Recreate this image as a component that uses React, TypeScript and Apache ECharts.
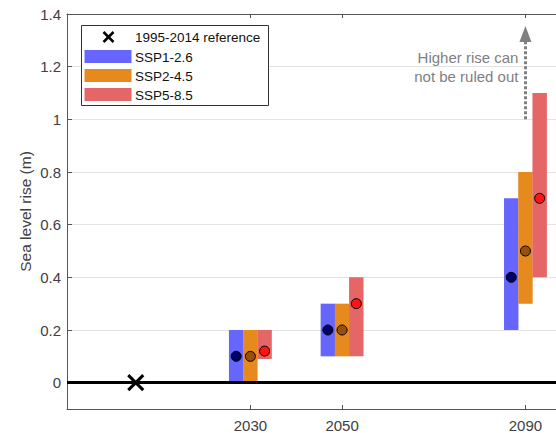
import React, { useEffect, useRef } from "react";
import * as echarts from "echarts";

// ---------- data ----------
const years = [2030, 2050, 2090];
const ssp126Low = [0.0, 0.1, 0.2];
const ssp126High = [0.2, 0.3, 0.7];
const ssp126Median = [0.1, 0.2, 0.4];
const ssp245Low = [0.0, 0.1, 0.3];
const ssp245High = [0.2, 0.3, 0.8];
const ssp245Median = [0.1, 0.2, 0.5];
const ssp585Low = [0.09, 0.1, 0.4];
const ssp585High = [0.2, 0.4, 1.1];
const ssp585Median = [0.12, 0.3, 0.7];
const referenceYear = [2005];
const referenceValue = [0];
const xTickValues = [2030, 2050, 2090];
const yTickValues = [0, 0.2, 0.4, 0.6, 0.8, 1, 1.2, 1.4];
const arrowYear = 2090;
const arrowStart = 1.0;
const arrowEnd = 1.324;
const noteValue = 1.2;

const FONT = "'Liberation Sans', Arial, Helvetica, sans-serif";
const BAR_W = 3.15;
const OFFSET = 3.1;

const scenarios = [
  { name: "SSP1-2.6", low: ssp126Low, high: ssp126High, median: ssp126Median, offset: -OFFSET, bar: "#6666FF", dot: "#000066" },
  { name: "SSP2-4.5", low: ssp245Low, high: ssp245High, median: ssp245Median, offset: 0, bar: "#E68A1E", dot: "#99500A" },
  { name: "SSP5-8.5", low: ssp585Low, high: ssp585High, median: ssp585Median, offset: OFFSET, bar: "#E56666", dot: "#FF1414" },
];

export default function App() {
  const ref = useRef<HTMLDivElement>(null);

  useEffect(() => {
    if (!ref.current) return;
    const chart = echarts.init(ref.current, undefined, { renderer: "svg" });

    const barSeries = scenarios.map((s) => ({
      type: "custom",
      name: s.name,
      z: 2,
      data: years.map((y, i) => [y, s.low[i], s.high[i]]),
      encode: { x: 0, y: [1, 2] },
      renderItem: (_params: any, api: any) => {
        const x = api.value(0) + s.offset;
        const p1 = api.coord([x - BAR_W / 2, api.value(2)]);
        const p2 = api.coord([x + BAR_W / 2, api.value(1)]);
        return {
          type: "rect",
          shape: { x: p1[0], y: p1[1], width: p2[0] - p1[0], height: p2[1] - p1[1] },
          style: { fill: s.bar },
        };
      },
    }));

    const dotSeries = scenarios.map((s) => ({
      type: "scatter",
      name: s.name + " median",
      z: 4,
      symbol: "circle",
      symbolSize: 10,
      data: years.map((y, i) => [y + s.offset, s.median[i]]),
      itemStyle: { color: s.dot, borderColor: "#000", borderWidth: 1, opacity: 1 },
    }));

    const refSeries = {
      type: "custom",
      name: "1995-2014 reference",
      z: 6,
      data: referenceYear.map((y, i) => [y, referenceValue[i]]),
      renderItem: (_params: any, api: any) => {
        const c = api.coord([api.value(0), api.value(1)]);
        const h = 7.5;
        return {
          type: "group",
          children: [
            { type: "line", shape: { x1: c[0] - h, y1: c[1] - h, x2: c[0] + h, y2: c[1] + h }, style: { stroke: "#000", lineWidth: 3 } },
            { type: "line", shape: { x1: c[0] - h, y1: c[1] + h, x2: c[0] + h, y2: c[1] - h }, style: { stroke: "#000", lineWidth: 3 } },
          ],
        };
      },
    };

    const annotationSeries = {
      type: "scatter",
      name: "annotation",
      z: 5,
      data: [],
      markLine: {
        silent: true,
        animation: false,
        symbol: ["none", "none"],
        label: { show: false },
        lineStyle: { color: "#000", width: 3, type: "solid" },
        data: [
          { yAxis: 0 },
          [
            { coord: [arrowYear, arrowStart], lineStyle: { color: "#808080", width: 3, type: [3, 2] }, symbol: "none" },
            { coord: [arrowYear, arrowEnd], symbol: "triangle", symbolSize: [12, 16] },
          ],
        ],
      },
      markPoint: {
        silent: true,
        animation: false,
        symbol: "circle",
        symbolSize: 0,
        data: [
          {
            coord: [arrowYear, noteValue],
            label: {
              show: true,
              position: "left",
              distance: 7,
              formatter: "Higher rise can\nnot be ruled out",
              color: "#808080",
              fontSize: 15,
              lineHeight: 19,
              fontFamily: FONT,
              align: "right",
            },
          },
        ],
      },
    };

    const legendRows = [
      { name: "SSP1-2.6", color: "#6666FF", y: 50 },
      { name: "SSP2-4.5", color: "#E68A1E", y: 69 },
      { name: "SSP5-8.5", color: "#E56666", y: 88 },
    ];

    const graphic: any[] = [
      { type: "rect", z: 100, shape: { x: 81.5, y: 25.5, width: 187, height: 80 }, style: { fill: "#fff", stroke: "#333", lineWidth: 1 } },
      { type: "line", z: 101, shape: { x1: 103.5, y1: 32, x2: 113.5, y2: 42 }, style: { stroke: "#000", lineWidth: 2.5 } },
      { type: "line", z: 101, shape: { x1: 103.5, y1: 42, x2: 113.5, y2: 32 }, style: { stroke: "#000", lineWidth: 2.5 } },
      { type: "text", z: 101, x: 135, y: 37.5, style: { text: "1995-2014 reference", fontSize: 13.5, fontFamily: FONT, fill: "#111", verticalAlign: "middle" } },
    ];
    legendRows.forEach((r) => {
      graphic.push({ type: "rect", z: 101, shape: { x: 84.5, y: r.y, width: 47, height: 13 }, style: { fill: r.color } });
      graphic.push({ type: "text", z: 101, x: 135, y: r.y + 7, style: { text: r.name, fontSize: 13.5, fontFamily: FONT, fill: "#111", verticalAlign: "middle" } });
    });

    chart.setOption({
      animation: false,
      backgroundColor: "#fff",
      textStyle: { fontFamily: FONT },
      grid: { left: 67, top: 14, right: -2, bottom: 24, containLabel: false, outerBoundsMode: "none" },
      xAxis: [
        {
          type: "value",
          position: "bottom",
          min: 1990,
          max: 2097.1,
          axisLine: { show: true, onZero: false, lineStyle: { color: "#555", width: 1 } },
          axisTick: { show: true, inside: true, length: 4, customValues: xTickValues, lineStyle: { color: "#555" } },
          axisLabel: {
            show: true,
            customValues: xTickValues,
            margin: 9,
            fontSize: 15,
            lineHeight: 15,
            color: "#404040",
            fontFamily: FONT,
            formatter: (v: number) => String(v),
          },
          splitLine: { show: false },
        },
        {
          type: "value",
          position: "top",
          min: 1990,
          max: 2097.1,
          axisLine: { show: true, onZero: false, lineStyle: { color: "#555", width: 1 } },
          axisTick: { show: true, inside: true, length: 4, customValues: xTickValues, lineStyle: { color: "#555" } },
          axisLabel: { show: false },
          splitLine: { show: false },
        },
      ],
      yAxis: {
        type: "value",
        min: -0.1,
        max: 1.4,
        name: "Sea level rise (m)",
        nameLocation: "middle",
        nameRotate: 90,
        nameGap: 34,
        nameMoveOverlap: false,
        nameTextStyle: { fontSize: 15.5, color: "#404040", fontFamily: FONT },
        axisLine: { show: true, onZero: false, lineStyle: { color: "#555", width: 1 } },
        axisTick: { show: true, inside: true, length: 5, customValues: yTickValues, lineStyle: { color: "#555" } },
        axisLabel: {
          show: true,
          customValues: yTickValues,
          margin: 6,
          fontSize: 15,
          color: "#404040",
          fontFamily: FONT,
          formatter: (v: number) => String(Math.round(v * 10) / 10),
        },
        splitLine: { show: true, lineStyle: { color: "#E3E3E3", width: 1 } },
      },
      series: [...barSeries, ...dotSeries, annotationSeries, refSeries],
      graphic,
    });

    return () => {
      chart.dispose();
    };
  }, []);

  return (
    <div
      ref={ref}
      style={{ position: "fixed", left: 0, top: 0, width: 556, height: 433, background: "#fff" }}
    />
  );
}
